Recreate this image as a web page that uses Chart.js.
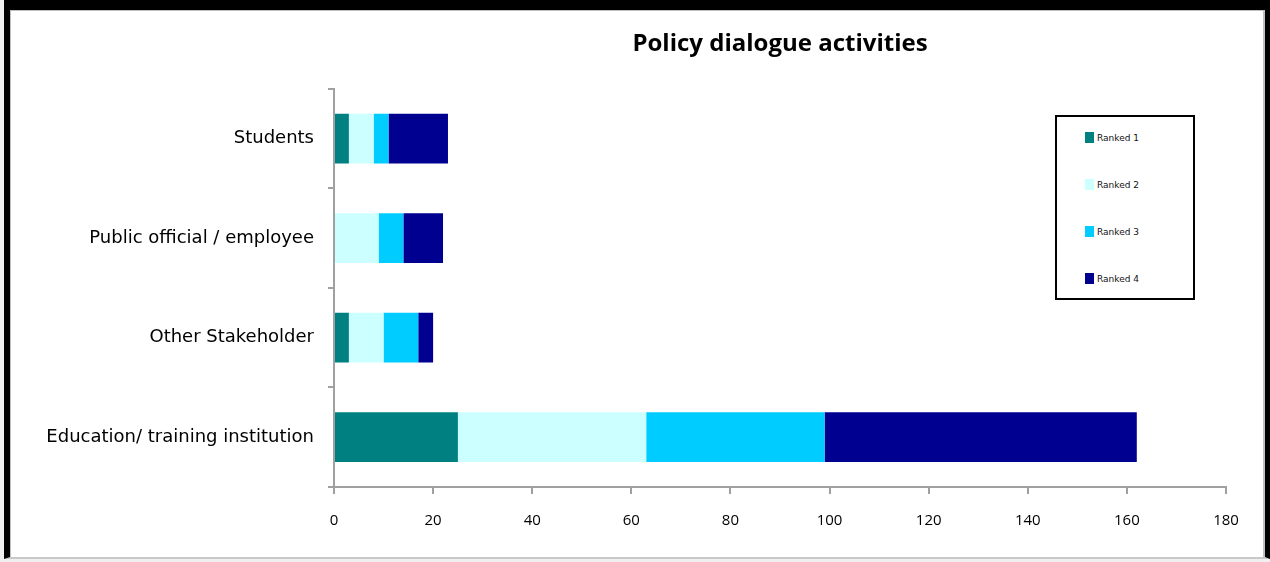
<!DOCTYPE html>
<html>
<head>
<meta charset="utf-8">
<script src="https://cdn.jsdelivr.net/npm/chart.js@4/dist/chart.umd.min.js"></script>
<style>
    body { margin: 0; width: 1270px; height: 562px; background: #f0f0f0; overflow: hidden; position: relative; }
    #marco {
        position: absolute; left: 4px; top: 0; width: 1255px; height: 547px;
        background: #fff;
        border-top: 10px solid #000; border-left: 6px solid #000; border-right: 5px solid #000;
        border-bottom: 2px solid #c8c8c8;
        box-shadow: inset 1px 1px 0 #c0c0c0, inset -2px 0 0 #c0c0c0;
    }
    #myChart { position: absolute; left: 0; top: 0; }
    #leyenda {
        position: absolute; left: 1055px; top: 115px; width: 136px; height: 181px;
        border: 2px solid #000; background: #fff;
        font-family: 'DejaVu Sans', sans-serif; font-size: 9px; color: #111;
    }
    .item { position: absolute; left: 28px; height: 12px; line-height: 12px; }
    .cuadro { display: inline-block; width: 9px; height: 11px; vertical-align: top; margin-right: 3px; }
</style>
</head>
<body>
<div id="marco"></div>
<canvas id="myChart" width="1270" height="562"></canvas>
<div id="leyenda"></div>
<script>
const categorias = ['Students', 'Public official / employee', 'Other Stakeholder', 'Education/ training institution'];

const ranked1 = [3, 0, 3, 25];
const ranked2 = [5, 9, 7, 38];
const ranked3 = [3, 5, 7, 36];
const ranked4 = [12, 8, 3, 63];

const nombres = ['Ranked 1', 'Ranked 2', 'Ranked 3', 'Ranked 4'];
const colores = ['#008080', '#ccffff', '#00ccff', '#000090'];

const xMin = 0;
const xMax = 180;
const xPaso = 20;

const series = [ranked1, ranked2, ranked3, ranked4];

let datasets = series.map((valores, i) => ({
    label: nombres[i],
    data: valores,
    backgroundColor: colores[i],
    borderWidth: 0,
    barPercentage: 0.5,
    categoryPercentage: 1
}));

let ctx = document.getElementById('myChart').getContext('2d');
let myChart = new Chart(ctx, {
    type: 'bar',
    data: {
        labels: categorias,
        datasets: datasets
    },
    options: {
        indexAxis: 'y',
        responsive: false,
        animation: false,
        layout: { padding: { left: 10, right: 44, top: 0, bottom: 0 } },
        plugins: {
            legend: { display: false },
            tooltip: { enabled: false },
            title: {
                display: true,
                text: 'Policy dialogue activities',
                fullSize: false,
                color: '#000',
                font: { family: 'Open Sans', size: 24, weight: 'bold' },
                padding: { top: 30, bottom: 30 }
            }
        },
        scales: {
            x: {
                stacked: true,
                min: xMin,
                max: xMax,
                ticks: { stepSize: xPaso, color: '#000', padding: 18, font: { family: 'Open Sans', size: 15 } },
                grid: { drawOnChartArea: false, tickLength: 7, color: '#a0a0a0', lineWidth: 2 },
                border: { color: '#a0a0a0', width: 2 },
                afterFit: escala => { escala.height = 75 }
            },
            y: {
                stacked: true,
                ticks: { color: '#000', padding: 14, font: { family: 'DejaVu Sans', size: 18 } },
                grid: { drawOnChartArea: false, tickLength: 6, color: '#a0a0a0', lineWidth: 2 },
                border: { color: '#a0a0a0', width: 2 },
                afterFit: escala => { escala.width = 324 }
            }
        }
    }
});

// leyenda a mano dentro del area del grafico
const leyenda = document.getElementById('leyenda');
myChart.data.datasets.forEach((ds, i) => {
    let item = document.createElement('div');
    item.className = 'item';
    item.style.top = (15 + i * 47) + 'px';
    item.innerHTML = '<span class="cuadro" style="background:' + ds.backgroundColor + '"></span>' + ds.label;
    leyenda.appendChild(item);
});
</script>
</body>
</html>
